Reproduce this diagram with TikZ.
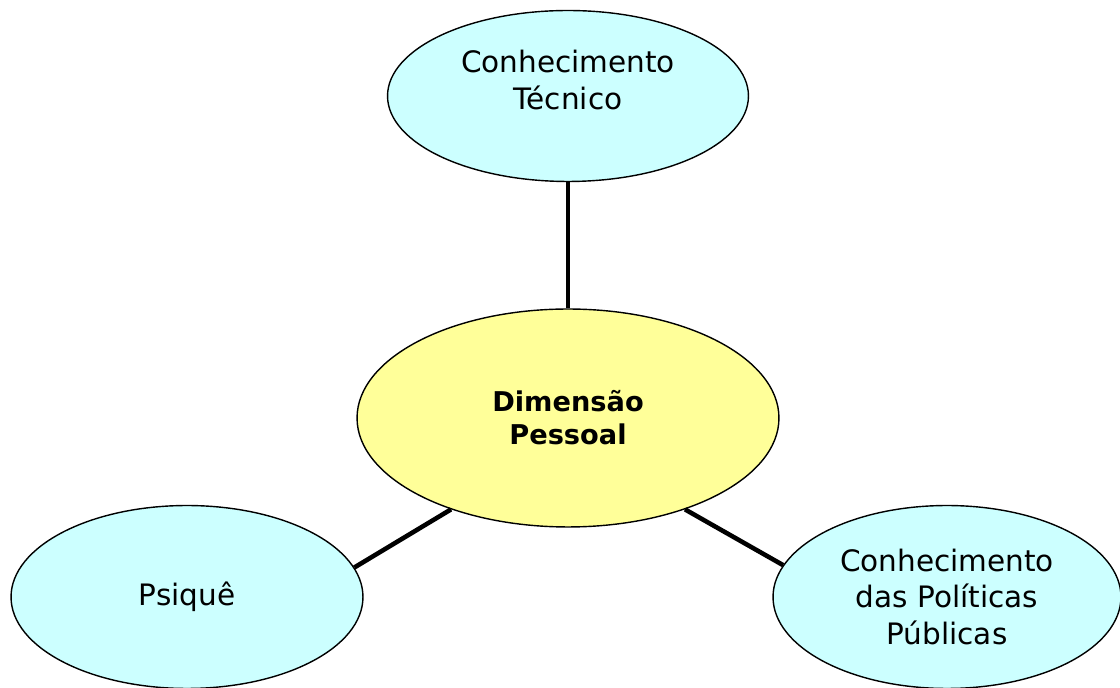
\documentclass[tikz,border=0pt]{standalone}
\usepackage{fontspec}
\setmainfont{DejaVu Sans}
\usepackage{tikz}
\usetikzlibrary{shapes,positioning}
\definecolor{leafcyan}{HTML}{CCFFFF}
\definecolor{coreyellow}{HTML}{FFFF99}

\begin{document}
\begin{tikzpicture}[x=0.02cm, y=-0.02cm,
  every node/.style={font=\fontsize{16.8}{21}\selectfont, align=center},
  bubble/.style={ellipse, draw=black, line width=0.8pt, inner sep=0pt},
  leaf/.style={bubble, fill=leafcyan},
  core/.style={bubble, fill=coreyellow, font=\fontsize{15.5}{18.8}\selectfont\bfseries},
  spoke/.style={line width=2.6pt}]
\useasboundingbox (0,0) rectangle (1120,688);
%Central node
\node[core, minimum width=8.44cm, minimum height=4.36cm] (dim) at (568,418) {Dimensão\\Pessoal};
%Outer nodes
\node[leaf, minimum width=7.22cm, minimum height=3.42cm,
      label={[yshift=0.32cm]center:Conhecimento\\Técnico}] (tec) at (568,96) {};
\node[leaf, minimum width=7.04cm, minimum height=3.66cm] (psi) at (187,597) {Psiquê};
\node[leaf, minimum width=6.96cm, minimum height=3.66cm] (pol) at (947,597) {Conhecimento\\das Políticas\\Públicas};
%Spokes
\draw[spoke] (dim.90) -- (tec.270);
\draw[spoke] (dim.218.5) -- (psi.10.3);
\draw[spoke] (dim.-38.2) -- (pol.169.6);
\end{tikzpicture}
\end{document}
